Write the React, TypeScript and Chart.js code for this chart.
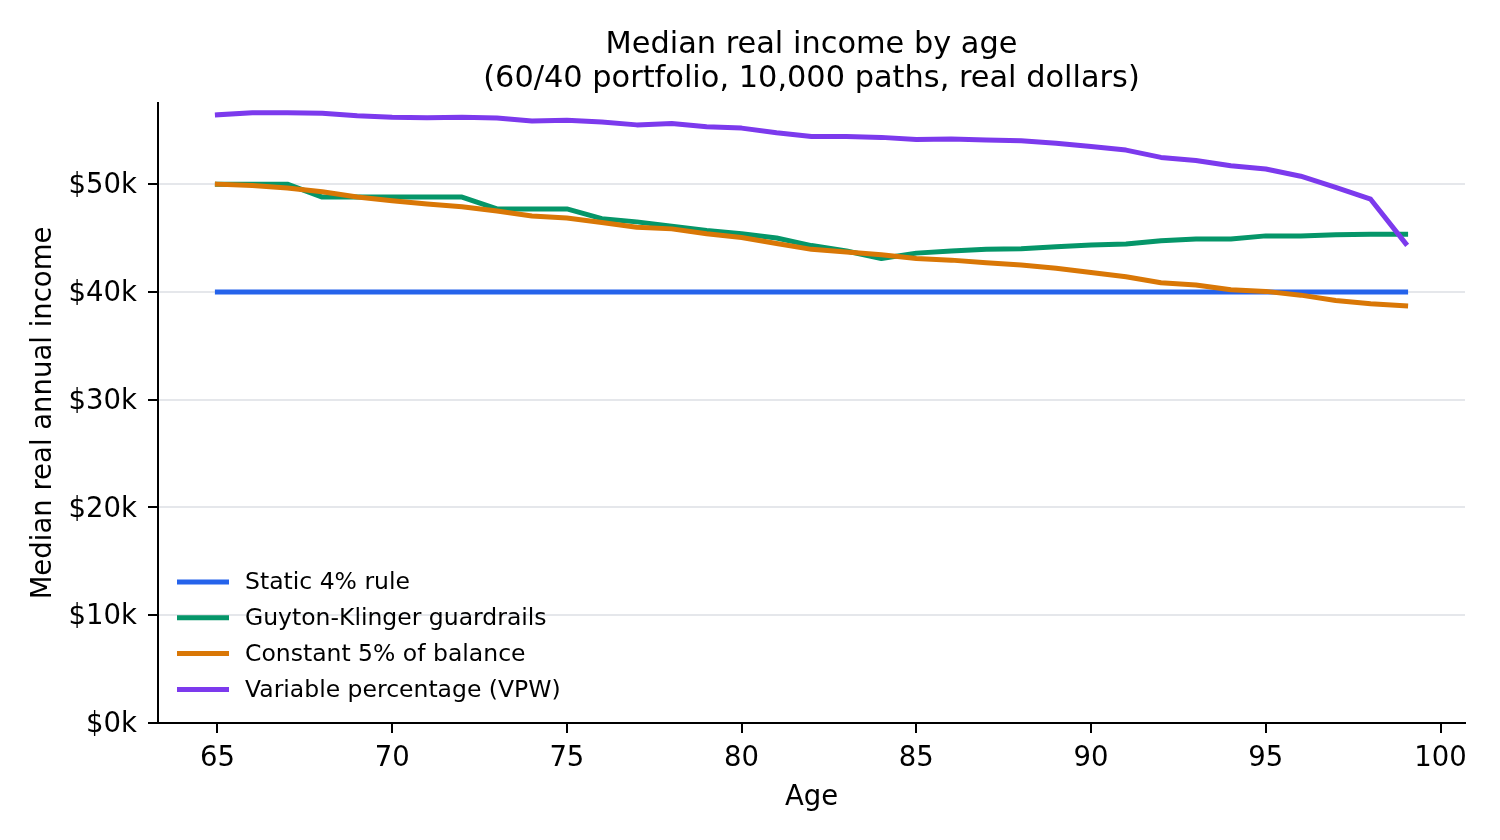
import React, { useEffect, useRef } from "react";
import { Chart, registerables } from "chart.js";

Chart.register(...registerables);

const FONT = "'DejaVu Sans', sans-serif";

const AGES = [65, 66, 67, 68, 69, 70, 71, 72, 73, 74, 75, 76, 77, 78, 79, 80, 81, 82, 83, 84, 85, 86, 87, 88, 89, 90, 91, 92, 93, 94, 95, 96, 97, 98, 99];

// values in thousands of real dollars
const STATIC_4 = [40, 40, 40, 40, 40, 40, 40, 40, 40, 40, 40, 40, 40, 40, 40, 40, 40, 40, 40, 40, 40, 40, 40, 40, 40, 40, 40, 40, 40, 40, 40, 40, 40, 40, 40];
const GUYTON_KLINGER = [50.0, 50.0, 50.0, 48.8, 48.8, 48.8, 48.8, 48.8, 47.7, 47.7, 47.7, 46.8, 46.5, 46.1, 45.7, 45.4, 45.0, 44.3, 43.8, 43.1, 43.6, 43.8, 43.95, 44.0, 44.2, 44.35, 44.45, 44.75, 44.9, 44.9, 45.2, 45.2, 45.3, 45.35, 45.35];
const CONSTANT_5 = [50.0, 49.87, 49.65, 49.3, 48.8, 48.45, 48.15, 47.9, 47.5, 47.05, 46.85, 46.45, 46.0, 45.85, 45.4, 45.05, 44.5, 43.95, 43.7, 43.45, 43.1, 42.95, 42.7, 42.5, 42.2, 41.8, 41.4, 40.85, 40.65, 40.2, 40.05, 39.7, 39.2, 38.9, 38.7];
const VPW = [56.44, 56.63, 56.63, 56.58, 56.35, 56.2, 56.16, 56.2, 56.13, 55.85, 55.93, 55.76, 55.5, 55.62, 55.33, 55.2, 54.77, 54.42, 54.43, 54.34, 54.15, 54.18, 54.1, 54.02, 53.8, 53.5, 53.16, 52.48, 52.2, 51.7, 51.4, 50.74, 49.7, 48.6, 44.5];

const SERIES_LABELS = ["Static 4% rule", "Guyton-Klinger guardrails", "Constant 5% of balance", "Variable percentage (VPW)"];
const SERIES_COLORS = ["#2563eb", "#059669", "#d97706", "#7c3aed"];

const X_TICKS = [65, 70, 75, 80, 85, 90, 95, 100];
const Y_TICKS = [0, 10, 20, 30, 40, 50];

const TITLE_LINES = ["Median real income by age", "(60/40 portfolio, 10,000 paths, real dollars)"];
const X_TITLE = "Age";
const Y_TITLE = "Median real annual income";

const titlePlugin = {
  id: "axesTitle",
  afterDraw(chart: any) {
    const { ctx, chartArea } = chart;
    const cx = (chartArea.left + chartArea.right) / 2;
    ctx.save();
    ctx.fillStyle = "#000";
    ctx.font = `30.4px ${FONT}`;
    ctx.textAlign = "center";
    ctx.textBaseline = "middle";
    TITLE_LINES.forEach((line, i) => {
      ctx.fillText(line, cx, chartArea.top - 58 + i * 34);
    });
    ctx.restore();
  },
};

const legendPlugin = {
  id: "innerLegend",
  afterDraw(chart: any) {
    const { ctx, chartArea } = chart;
    const x0 = chartArea.left + 19;
    const y0 = chartArea.bottom - 141;
    ctx.save();
    ctx.font = `23.5px ${FONT}`;
    ctx.textAlign = "left";
    ctx.textBaseline = "middle";
    SERIES_LABELS.forEach((label, i) => {
      const y = y0 + i * 35.8;
      ctx.strokeStyle = SERIES_COLORS[i];
      ctx.lineWidth = 5;
      ctx.lineCap = "butt";
      ctx.beginPath();
      ctx.moveTo(x0, y);
      ctx.lineTo(x0 + 52, y);
      ctx.stroke();
      ctx.fillStyle = "#000";
      ctx.fillText(label, x0 + 68, y + 1);
    });
    ctx.restore();
  },
};

export default function App() {
  const canvasRef = useRef<HTMLCanvasElement | null>(null);

  useEffect(() => {
    const canvas = canvasRef.current;
    if (!canvas) return;
    const seriesData = [STATIC_4, GUYTON_KLINGER, CONSTANT_5, VPW];
    const chart = new Chart(canvas, {
      type: "line",
      data: {
        datasets: seriesData.map((vals, i) => ({
          label: SERIES_LABELS[i],
          data: AGES.map((a, j) => ({ x: a, y: vals[j] })),
          borderColor: SERIES_COLORS[i],
          backgroundColor: SERIES_COLORS[i],
          borderWidth: 5,
          pointRadius: 0,
          tension: 0,
          fill: false,
          borderCapStyle: "square",
          borderJoinStyle: "round",
          order: 4 - i,
        })),
      },
      options: {
        animation: false,
        responsive: false,
        devicePixelRatio: 1,
        layout: { padding: { top: 103, right: 35, left: 0, bottom: 0 } },
        plugins: {
          legend: { display: false },
          title: { display: false },
          tooltip: { enabled: false },
        },
        scales: {
          x: {
            type: "linear",
            min: 63.3,
            max: 100.7,
            afterBuildTicks: (s: any) => {
              s.ticks = X_TICKS.map((v) => ({ value: v }));
            },
            afterFit: (s: any) => {
              s.height = 117;
            },
            ticks: {
              autoSkip: false,
              maxRotation: 0,
              padding: 9,
              color: "#000",
              font: { family: FONT, size: 27.5 },
              callback: (v: any) => String(v),
            },
            grid: {
              color: "rgba(0,0,0,0)",
              tickColor: "#000",
              tickLength: 10,
              tickWidth: 2,
              lineWidth: 2,
            },
            border: { display: true, color: "#000", width: 2 },
            title: {
              display: true,
              text: X_TITLE,
              color: "#000",
              font: { family: FONT, size: 27.5 },
              padding: { top: 0, bottom: 26 },
            },
          },
          y: {
            type: "linear",
            min: 0,
            max: 57.53,
            afterBuildTicks: (s: any) => {
              s.ticks = Y_TICKS.map((v) => ({ value: v }));
            },
            afterFit: (s: any) => {
              s.width = 158;
            },
            ticks: {
              padding: 11,
              labelOffset: 2,
              color: "#000",
              font: { family: FONT, size: 27.5 },
              callback: (v: any) => `$${v}k`,
            },
            grid: {
              color: "#e5e7eb",
              lineWidth: 2,
              tickColor: "#000",
              tickLength: 10,
              tickWidth: 2,
            },
            border: { display: true, color: "#000", width: 2 },
            title: {
              display: true,
              text: Y_TITLE,
              color: "#000",
              font: { family: FONT, size: 27.5 },
              padding: { top: 27, bottom: 0 },
            },
          },
        },
      },
      plugins: [titlePlugin, legendPlugin],
    } as any);
    return () => chart.destroy();
  }, []);

  return (
    <div style={{ position: "absolute", left: 0, top: 0, width: 1500, height: 840, background: "#fff" }}>
      <canvas ref={canvasRef} width={1500} height={840} style={{ display: "block", width: 1500, height: 840 }} />
    </div>
  );
}
